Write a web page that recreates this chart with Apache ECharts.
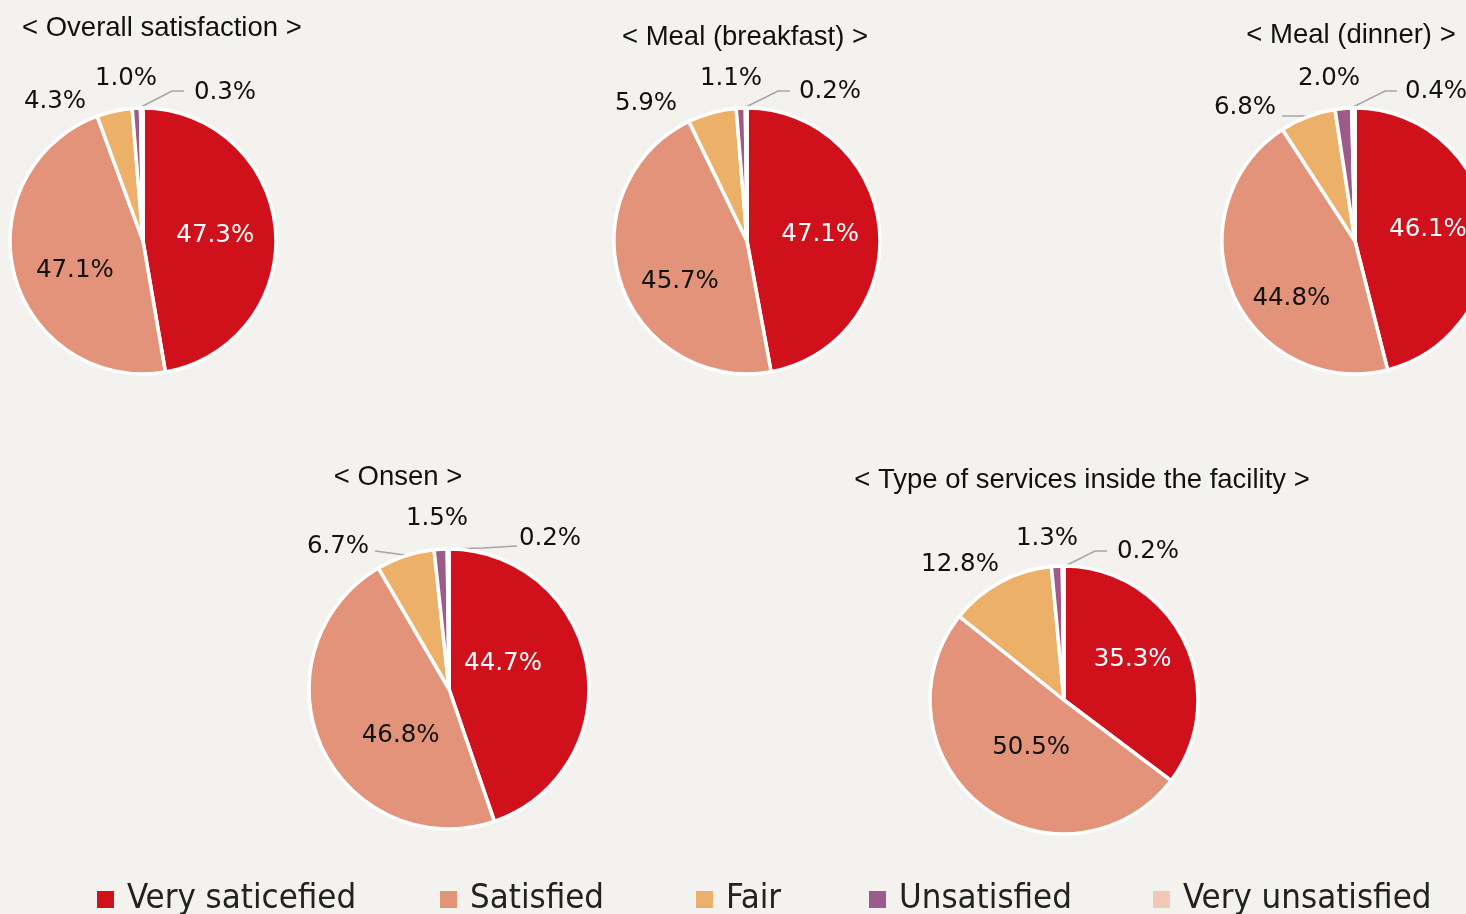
<!DOCTYPE html>
<html>
<head>
<meta charset="utf-8">
<script src="https://cdn.jsdelivr.net/npm/echarts@6/dist/echarts.min.js"></script>
<style>
  html, body { margin: 0; padding: 0; background: #f3f2ee; }
  #chart { width: 1466px; height: 914px; }
</style>
</head>
<body>
<div id="chart"></div>
<script>
// Answer categories (shared by every panel)
const categories = ['Very saticefied', 'Satisfied', 'Fair', 'Unsatisfied', 'Very unsatisfied'];

// Panel headings
const panelTitles = [
  '< Overall satisfaction >',
  '< Meal (breakfast) >',
  '< Meal (dinner) >',
  '< Onsen >',
  '< Type of services inside the facility >'
];

// Share of answers (%) per panel, in category order
const overall   = [47.3, 47.1, 4.3, 1.0, 0.3];
const breakfast = [47.1, 45.7, 5.9, 1.1, 0.2];
const dinner    = [46.1, 44.8, 6.8, 2.0, 0.4];
const onsen     = [44.7, 46.8, 6.7, 1.5, 0.2];
const services  = [35.3, 50.5, 12.8, 1.3, 0.2];

const panelValues = [overall, breakfast, dinner, onsen, services];

const colors = ['#d0111b', '#e2937a', '#edb068', '#9e5b8a', '#f2c7b3'];

// Panel geometry: pie centre/radius and heading placement
const panels = [
  { center: [143, 241], r: 133, title: { left: 22, top: 14, align: 'left' } },
  { center: [747, 241], r: 133, title: { left: 745, top: 23, align: 'center' } },
  { center: [1355, 241], r: 133, title: { left: 1351, top: 21, align: 'center' } },
  { center: [449, 689], r: 140, title: { left: 398, top: 463, align: 'center' } },
  { center: [1064, 700], r: 134, title: { left: 1082, top: 466, align: 'center' } }
];

// Small shifts of the two inside labels (very satisfied, satisfied) per panel
const insideNudge = [
  [[3, 1], [-1, 12]],
  [[4, 0], [-1, 19]],
  [[4, -3], [0, 30]],
  [[-18, -13], [18, 16]],
  [[6, -9], [10, -8]]
];

// Placement of the small-slice labels, relative to the pie centre
// t: label centre, line: leader line points (if any)
const smallLabelSpots = [
  [null, null,
   { t: [-88, -139] },
   { t: [-17, -162] },
   { t: [82, -148], line: [[-2, -134], [29, -150], [41, -150]] }],
  [null, null,
   { t: [-101, -137] },
   { t: [-16, -162] },
   { t: [83, -149], line: [[-1, -134], [31, -150], [43, -150]] }],
  [null, null,
   { t: [-110, -133], line: [[-73, -125], [-60, -125], [-47, -125]] },
   { t: [-26, -162] },
   { t: [81, -149], line: [[-2, -134], [30, -150], [42, -150]] }],
  [null, null,
   { t: [-111, -142], line: [[-74, -138], [-59, -136], [-44, -134]] },
   { t: [-12, -170] },
   { t: [101, -150], line: [[-1, -140], [34, -141], [68, -143]] }],
  [null, null,
   { t: [-104, -135] },
   { t: [-17, -161] },
   { t: [84, -148], line: [[-1, -133], [31, -149], [43, -149]] }]
];

const labelFont = "'DejaVu Sans', Verdana, sans-serif";
const titleFont = "'Liberation Sans', Arial, sans-serif";
const legendFont = "'DejaVu Sans Condensed', 'DejaVu Sans', sans-serif";

const series = panelValues.map((vals, p) => ({
  type: 'pie',
  center: panels[p].center,
  radius: [0, panels[p].r],
  startAngle: 90,
  clockwise: true,
  avoidLabelOverlap: false,
  silent: true,
  itemStyle: { borderColor: '#ffffff', borderWidth: 3.5 },
  labelLine: {
    show: false,
    lineStyle: { color: '#a6a6a6', width: 1.5 },
    smooth: false
  },
  label: {
    fontFamily: labelFont,
    fontSize: 24.5,
    formatter: (d) => d.value.toFixed(1) + '%'
  },
  labelLayout: (params) => {
    const i = params.dataIndex;
    const spot = smallLabelSpots[p][i];
    if (!spot) {
      const n = insideNudge[p][i];
      return n ? { dx: n[0], dy: n[1] } : {};
    }
    const c = panels[p].center;
    const out = {
      x: c[0] + spot.t[0],
      y: c[1] + spot.t[1],
      align: 'center',
      verticalAlign: 'middle'
    };
    if (spot.line) {
      out.labelLinePoints = spot.line.map(pt => [c[0] + pt[0], c[1] + pt[1]]);
    }
    return out;
  },
  data: vals.map((v, i) => {
    const small = i >= 2;
    return {
      name: categories[i],
      value: v,
      itemStyle: { color: colors[i] },
      label: {
        position: small ? 'outside' : 'inside',
        color: i === 0 ? '#ffffff' : '#111111'
      },
      labelLine: { show: !!(smallLabelSpots[p][i] && smallLabelSpots[p][i].line) }
    };
  })
}));

const titles = panelTitles.map((text, p) => ({
  text,
  left: panels[p].title.left,
  top: panels[p].title.top,
  textAlign: panels[p].title.align,
  padding: 0,
  textStyle: {
    fontFamily: titleFont,
    fontSize: 27.5,
    fontWeight: 'normal',
    color: '#111111'
  }
}));

// One legend entry per component so each can sit at its own spot
const legendLeft = [97, 440, 696, 869, 1153];
const legends = categories.map((name, i) => ({
  data: [name],
  left: legendLeft[i],
  top: 882,
  padding: 0,
  icon: 'rect',
  itemWidth: 17,
  itemHeight: 17,
  selectedMode: false,
  itemStyle: { borderWidth: 0 },
  textStyle: {
    fontFamily: legendFont,
    fontSize: 34.5,
    color: '#222222',
    padding: [0, 0, 0, 8]
  }
}));

const chart = echarts.init(document.getElementById('chart'), null, { renderer: 'canvas' });
chart.setOption({
  backgroundColor: '#f3f2ee',
  animation: false,
  title: titles,
  legend: legends,
  series
});
</script>
</body>
</html>
